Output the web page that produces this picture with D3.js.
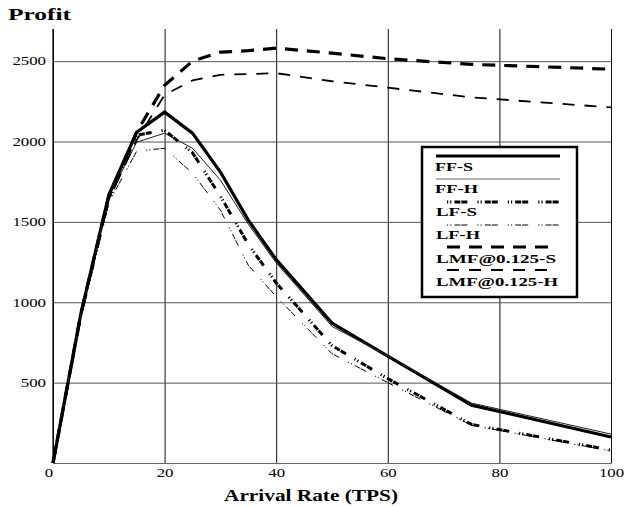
<!DOCTYPE html>
<html><head><meta charset="utf-8">
<script src="https://cdn.jsdelivr.net/npm/d3@7"></script>
<style>body{margin:0;background:#fff}svg{display:block}</style>
</head><body>
<script>
const xValues = [0,5,10,15,20,25,30,35,40,50,60,75,100];
const ffS  = [0,930,1667,2058,2183,2052,1810,1511,1265,870,665,360,162];
const ffH  = [0,925,1655,1996,2052,1958,1760,1485,1245,850,665,373,180];
const lfS  = [0,920,1640,2040,2070,1930,1660,1360,1120,730,525,240,80];
const lfH  = [0,915,1620,1940,1958,1803,1573,1230,1035,680,500,235,75];
const lmfS = [0,930,1660,2060,2350,2500,2556,2565,2581,2550,2515,2480,2450];
const lmfH = [0,920,1640,2010,2290,2380,2415,2420,2425,2375,2335,2275,2212];
const seriesNames = ["FF-S","FF-H","LF-S","LF-H","LMF@0.125-S","LMF@0.125-H"];
const xTicks = [0,20,40,60,80,100];
const yTicks = [500,1000,1500,2000,2500];

const W=628,H=506;
const svg=d3.select("body").append("svg").attr("width",W).attr("height",H);
const x=d3.scaleLinear().domain([0,100]).range([53,611]);
const y=d3.scaleLinear().domain([0,2700]).range([463,29]);
const serif='"Liberation Serif","DejaVu Serif",serif';

const styles=[
 {w:3.2,dash:null,c:"#000"},
 {w:1,dash:null,c:"#222"},
 {w:3,dash:"1.2,2,1.2,3,6,1,6,10",c:"#000"},
 {w:1,dash:"1.2,2,1.2,3,6,1,6,10",c:"#000"},
 {w:3.2,dash:"13,9",c:"#000"},
 {w:1.8,dash:"12,10",c:"#000"}
];
const allSeries=[ffS,ffH,lfS,lfH,lmfS,lmfH];

// grid via axes
const gx=svg.append("g").attr("transform","translate(0,463)")
  .call(d3.axisBottom(x).tickValues(xTicks).tickSize(-(463-29)).tickPadding(5.5).tickFormat(d3.format("d")));
gx.select(".domain").attr("stroke","#666").attr("stroke-width",1);
gx.selectAll(".tick line").attr("stroke","#111").attr("stroke-width",1);
gx.selectAll(".tick text").attr("font-family",serif).attr("font-size",12).attr("fill","#000")
  .attr("textLength",d=>String(d).length*8.4).attr("lengthAdjust","spacingAndGlyphs")
  .attr("dx",d=>d===0?-4.5:0);

const gy=svg.append("g").attr("transform","translate(53,0)")
  .call(d3.axisLeft(y).tickValues(yTicks).tickSize(-(611-53)).tickPadding(7).tickFormat(d3.format("d")));
gy.select(".domain").remove();
gy.selectAll(".tick line").attr("stroke","#555").attr("stroke-width",1);
gy.selectAll(".tick text").attr("font-family",serif).attr("font-size",12).attr("fill","#000")
  .attr("textLength",d=>String(d).length*8.4).attr("lengthAdjust","spacingAndGlyphs");
svg.append("line").attr("x1",x(0)).attr("x2",x(0)).attr("y1",y(2700)).attr("y2",y(0)).attr("stroke","#000").attr("stroke-width",1.2);

// lines
const line=d3.line().x((d,i)=>x(xValues[i])).y(d=>y(d));
allSeries.forEach((s,i)=>{
  const st=styles[i];
  svg.append("path").datum(s).attr("d",line).attr("fill","none")
    .attr("stroke",st.c).attr("stroke-width",st.w)
    .attr("stroke-dasharray",st.dash).attr("stroke-linejoin","miter");
});

// legend
const lg=svg.append("g");
lg.append("rect").attr("x",422).attr("y",147).attr("width",155).attr("height",150)
  .attr("fill","#fff").attr("stroke","#000").attr("stroke-width",2.5);
const legLines=[[436,560,156],[436,560,179],[447,562,202],[447,560,225],[447,553,247],[447,553,270]];
const legText=[[435,171,38],[435,193,43],[436,216,41],[436,239,44],[436,263,120],[436,286,122]];
seriesNames.forEach((n,i)=>{
  const st=styles[i];
  lg.append("line").attr("x1",legLines[i][0]).attr("x2",legLines[i][1]).attr("y1",legLines[i][2]).attr("y2",legLines[i][2])
    .attr("stroke",i===1?"#666":st.c).attr("stroke-width",st.w).attr("stroke-dasharray",st.dash);
  lg.append("text").attr("x",legText[i][0]).attr("y",legText[i][1]).text(n)
    .attr("font-family",serif).attr("font-weight","bold").attr("font-size",12.5)
    .attr("textLength",legText[i][2]).attr("lengthAdjust","spacingAndGlyphs");
});

// titles
svg.append("text").attr("x",8).attr("y",20).text("Profit")
  .attr("font-family",serif).attr("font-weight","bold").attr("font-size",17)
  .attr("textLength",63).attr("lengthAdjust","spacingAndGlyphs");
svg.append("text").attr("x",224).attr("y",501).text("Arrival Rate (TPS)")
  .attr("font-family",serif).attr("font-weight","bold").attr("font-size",16)
  .attr("textLength",174).attr("lengthAdjust","spacingAndGlyphs");
</script>
</body></html>
